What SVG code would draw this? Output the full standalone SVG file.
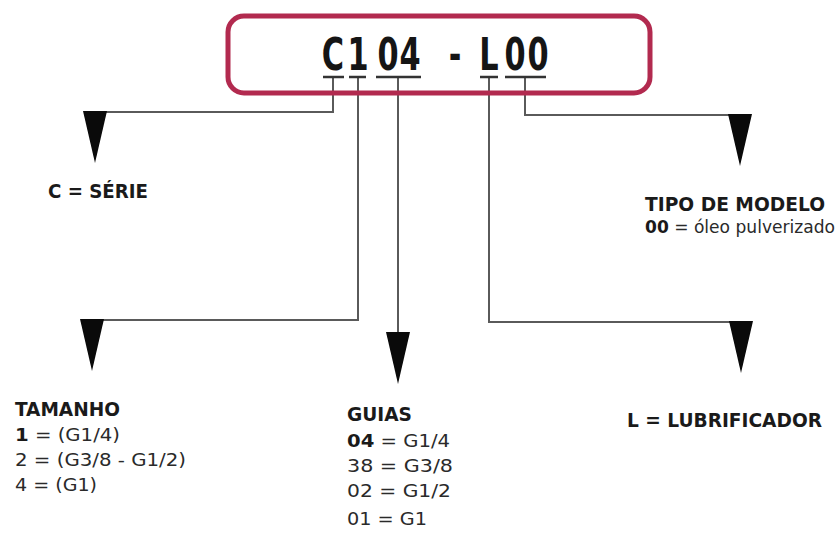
<svg xmlns="http://www.w3.org/2000/svg" width="839" height="535" viewBox="0 0 839 535">
<defs>
<style>
text{font-family:'DejaVu Sans Condensed','DejaVu Sans',sans-serif;font-stretch:condensed;fill:#1a1a1a}
.h{font-weight:bold;font-size:20px}
.r{font-weight:normal;font-size:18.5px;fill:#2a2a2a}
.b{font-weight:bold;fill:#1a1a1a}
.t{font-weight:bold;font-size:45px;fill:#151515}
.con{fill:none;stroke:#5a5a5a;stroke-width:2}
.ul{stroke:#333;stroke-width:2.5}
.arr{fill:#0a0a0a}
</style>
<path id="ah" d="M-12,0 L12,0 L0,52 Z"/>
</defs>
<rect width="839" height="535" fill="#ffffff"/>

<g id="connectors">
<path class="con" d="M333,77 V112 H95"/>
<path class="con" d="M358,77 V320 H92"/>
<path class="con" d="M398,77 V335"/>
<path class="con" d="M489,77 V322 H741"/>
<path class="con" d="M525,77 V115 H740"/>
<use href="#ah" class="arr" x="95" y="111"/>
<use href="#ah" class="arr" x="92" y="319"/>
<use href="#ah" class="arr" x="398" y="332"/>
<use href="#ah" class="arr" x="741" y="321"/>
<use href="#ah" class="arr" x="740" y="114"/>
</g>

<g id="title">
<rect x="228" y="16" width="422" height="77" rx="16" fill="none" stroke="#b22a4f" stroke-width="5"/>
<text class="t" transform="scale(0.75,1)" y="70" text-anchor="middle" x="444 477.3 517.3 546.7 573.3 606.7 626.7 652 686.7 717.3">C104 - L00</text>
<g>
<line class="ul" x1="323" y1="77" x2="344" y2="77"/>
<line class="ul" x1="349" y1="77" x2="366" y2="77"/>
<line class="ul" x1="376" y1="77" x2="421" y2="77"/>
<line class="ul" x1="480" y1="77" x2="498" y2="77"/>
<line class="ul" x1="505" y1="77" x2="546" y2="77"/>
</g>
</g>

<g id="serie">
<text class="h" x="48" y="198" textLength="100" lengthAdjust="spacingAndGlyphs">C = SÉRIE</text>
</g>

<g id="tamanho">
<text class="h" x="15" y="416" textLength="105" lengthAdjust="spacingAndGlyphs">TAMANHO</text>
<text class="r" x="15" y="441" textLength="105" lengthAdjust="spacingAndGlyphs"><tspan class="b">1</tspan> = (G1/4)</text>
<text class="r" x="15" y="466" textLength="171" lengthAdjust="spacingAndGlyphs">2 = (G3/8 - G1/2)</text>
<text class="r" x="15" y="491" textLength="82" lengthAdjust="spacingAndGlyphs">4 = (G1)</text>
</g>

<g id="guias">
<text class="h" x="347" y="421" textLength="65" lengthAdjust="spacingAndGlyphs">GUIAS</text>
<text class="r" x="347" y="447" textLength="103" lengthAdjust="spacingAndGlyphs"><tspan class="b">04</tspan> = G1/4</text>
<text class="r" x="347" y="472" textLength="106" lengthAdjust="spacingAndGlyphs">38 = G3/8</text>
<text class="r" x="347" y="497" textLength="104" lengthAdjust="spacingAndGlyphs">02 = G1/2</text>
<text class="r" x="347" y="525" textLength="80" lengthAdjust="spacingAndGlyphs">01 = G1</text>
</g>

<g id="tipo">
<text class="h" x="645" y="211" textLength="180" lengthAdjust="spacingAndGlyphs">TIPO DE MODELO</text>
<text class="r" x="645" y="233" textLength="190" lengthAdjust="spacingAndGlyphs"><tspan class="b">00</tspan> = óleo pulverizado</text>
</g>

<g id="lubrificador">
<text class="h" x="627" y="427" textLength="195" lengthAdjust="spacingAndGlyphs">L = LUBRIFICADOR</text>
</g>
</svg>
